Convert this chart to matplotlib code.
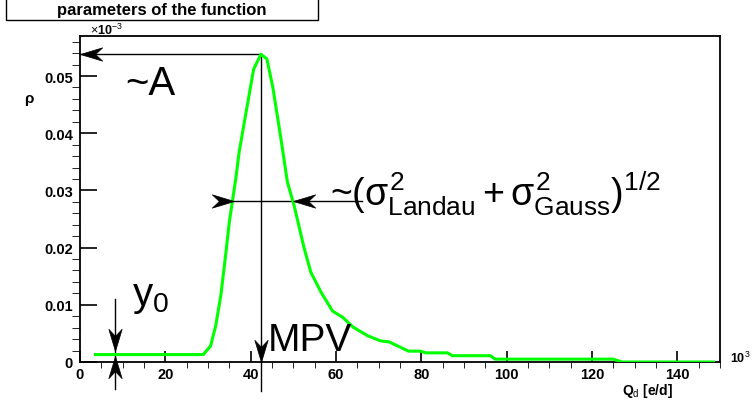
import numpy as np
import matplotlib.pyplot as plt
from matplotlib.patches import Rectangle
from matplotlib.markers import MarkerStyle
from matplotlib.path import Path
from matplotlib.transforms import Affine2D

plt.rcParams['font.family'] = ['Liberation Sans', 'DejaVu Sans']
plt.rcParams['mathtext.fontset'] = 'custom'
plt.rcParams['mathtext.rm'] = 'Liberation Sans'
plt.rcParams['mathtext.it'] = 'Liberation Sans'
plt.rcParams['mathtext.bf'] = 'Liberation Sans:bold'

# Landau (x) Gauss density
q = [3.6, 28.9, 30.6, 31.8, 33.0, 34.1, 35.0, 35.7, 36.5, 37.3, 39.0, 40.7,
     42.4, 43.8, 45.2, 47.0, 48.6, 50.2, 52.5, 54.1, 56.5, 59.2, 61.6, 64.0,
     67.4, 70.4, 72.5, 77.0, 79.8, 81.0, 86.1, 87.3, 96.2, 97.3, 125.0, 127.0,
     148.5]
rho = [0.0013, 0.0013, 0.0028, 0.0063, 0.0116, 0.0185, 0.0245, 0.0280,
       0.0320, 0.0367, 0.0440, 0.0512, 0.0538, 0.0530, 0.0480, 0.0395,
       0.0315, 0.0273, 0.0200, 0.0157, 0.0122, 0.0089, 0.0078, 0.0061,
       0.0046, 0.0037, 0.0035, 0.0019, 0.0019, 0.0016, 0.0016, 0.0011,
       0.0011, 0.0005, 0.0005, 0.0000, 0.0000]

x_ticks = [0, 20, 40, 60, 80, 100, 120, 140]
x_tick_labels = ['0', '20', '40', '60', '80', '100', '120', '140']
y_ticks = [0, 0.01, 0.02, 0.03, 0.04, 0.05]
y_tick_labels = ['0', '0.01', '0.02', '0.03', '0.04', '0.05']

# annotation geometry
mpv = q[int(np.argmax(rho))]
amp = max(rho)
y0 = rho[0]
y0_q = 8.3
width_level = 0.0281
width_left, width_right, width_end = 36.0, 50.0, 66.2
below_axis = -0.0051

fig = plt.figure(figsize=(7.52, 4.02), dpi=100)
ax = fig.add_axes([80 / 752, 39 / 402, 640 / 752, 326 / 402])

ax.plot(q, rho, color='#00ff00', lw=2.2, zorder=3, solid_joinstyle='round')

ax.set_xlim(0, 150)
ax.set_ylim(0, 0.057)
ax.set_xticks(x_ticks)
ax.set_xticklabels(x_tick_labels)
ax.set_xticks(np.arange(0, 151, 5), minor=True)
ax.set_yticks(y_ticks)
ax.set_yticklabels(y_tick_labels)
ax.set_yticks(np.arange(0, 0.0561, 0.002), minor=True)
for s in ax.spines.values():
    s.set_linewidth(1.3)
ax.tick_params(direction='in', width=1.2, labelsize=10.5)
ax.tick_params(axis='x', which='major', length=8, pad=3.5)
ax.tick_params(axis='x', which='minor', length=4.3)
ax.tick_params(axis='y', which='major', length=12, pad=5)
ax.tick_params(axis='y', which='minor', length=6)
for lab in ax.get_xticklabels() + ax.get_yticklabels():
    lab.set_fontweight('bold')

# ROOT-like dart arrow head, tip at the origin, pointing along +x
DART = Path([(0, 0), (-1, 0.3), (-0.68, 0), (-1, -0.3), (0, 0)],
            [Path.MOVETO, Path.LINETO, Path.LINETO, Path.LINETO,
             Path.CLOSEPOLY])


def dart(x, y, angle):
    m = MarkerStyle(DART, transform=Affine2D().rotate_deg(angle))
    ax.plot([x], [y], marker=m, ms=32, color='k', mec='k', mew=0.5,
            clip_on=False, zorder=4)


def line(xs, ys):
    ax.plot(xs, ys, color='k', lw=1, clip_on=False, zorder=2)


# ~A
line([mpv, 0], [amp, amp])
dart(0, amp, 180)
ax.text(10.6, 0.0469, '~A', fontsize=29)

# MPV
line([mpv, mpv], [amp, below_axis])
dart(mpv, 0, -90)
ax.text(44.1, 0.0021, 'MPV', fontsize=28)

# width
line([width_left, width_end], [width_level, width_level])
dart(width_left, width_level, 0)
dart(width_right, width_level, 180)
ax.text(58.7, 0.0276,
        r'~$(\sigma^{2}_{\rm Landau}+\sigma^{2}_{\rm Gauss})^{1/2}$',
        fontsize=27)

# y0
line([y0_q, y0_q], [0.011, y0])
dart(y0_q, y0 + 0.0006, -90)
line([y0_q, y0_q], [-0.0047, y0])
dart(y0_q, y0 - 0.00025, 90)
ax.text(12.3, 0.0099, r'$y_{0}$', fontsize=29)

# frame texts
fig.add_artist(Rectangle((6 / 752, 1 - 21 / 402), 312 / 752, 30 / 402,
                         transform=fig.transFigure, fill=False,
                         edgecolor='k', lw=1))
fig.text(162 / 752, 1 - 10 / 402, 'parameters of the function',
         ha='center', va='center', fontsize=12, fontweight='bold')
fig.text(90 / 752, 1 - 35 / 402, r'$\times$10$^{-3}$', fontsize=9,
         fontweight='bold')
fig.text(730 / 752, 1 - 363 / 402, '10$^{3}$', fontsize=9,
         fontweight='bold')
fig.text(673 / 752, 1 - 395 / 402, r'Q$_{\rm d}$ [e/d]', ha='right',
         fontsize=10, fontweight='bold')
fig.text(29 / 752, 1 - 99 / 402, 'ρ', ha='center', va='center',
         fontsize=11, fontweight='bold')

fig.savefig('out.png', dpi=100)
